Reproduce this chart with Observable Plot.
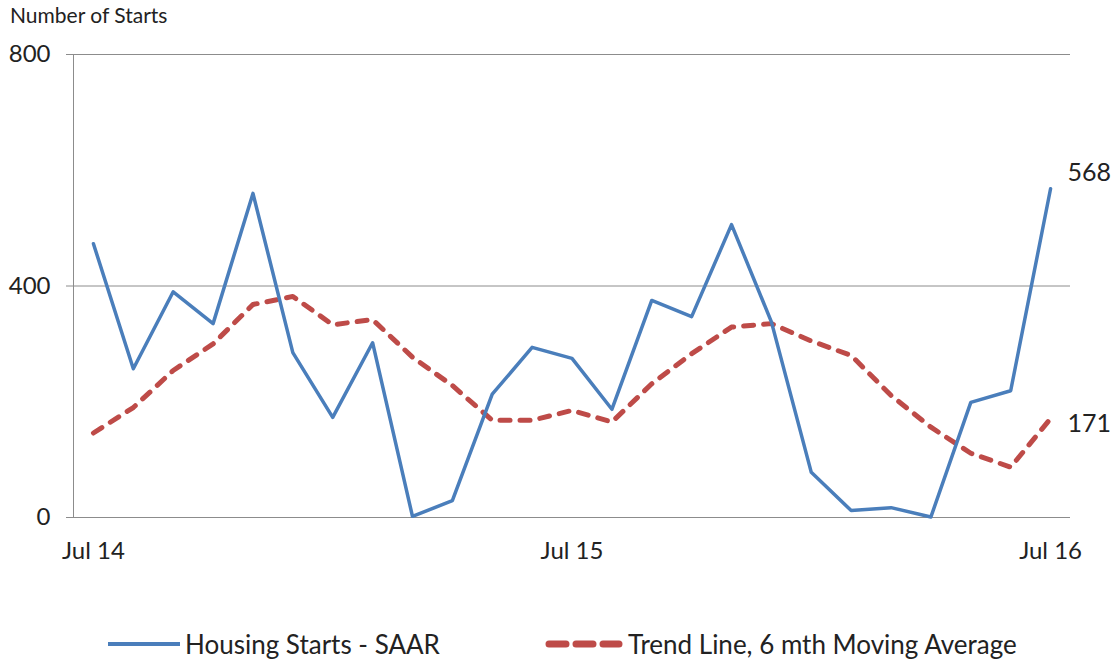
<!DOCTYPE html>
<html>
<head>
<meta charset="utf-8">
<script src="https://cdn.jsdelivr.net/npm/d3@7"></script>
<script src="https://cdn.jsdelivr.net/npm/@observablehq/plot@0.6"></script>
<style>
  body { margin: 0; background: #fff; font-family: Lato, "Open Sans", sans-serif; color: #222; }
  #wrap { width: 1119px; height: 663px; position: relative; overflow: hidden; }
  #title { height: 30px; line-height: 30px; padding-left: 10px; font-size: 21px; }
  #legend { display: flex; align-items: center; font-size: 26px; padding-left: 108px; height: 40px; margin-top: 24px; }
  #legend .item { display: flex; align-items: center; }
  #legend svg { margin-right: 5px; }
</style>
</head>
<body>
<div id="wrap">
  <div id="title">Number of Starts</div>
  <div id="chart"></div>
  <div id="legend"></div>
</div>
<script>
const months = ["Jul 14","Aug 14","Sep 14","Oct 14","Nov 14","Dec 14","Jan 15","Feb 15","Mar 15","Apr 15","May 15","Jun 15","Jul 15","Aug 15","Sep 15","Oct 15","Nov 15","Dec 15","Jan 16","Feb 16","Mar 16","Apr 16","May 16","Jun 16","Jul 16"];
const housingStarts = [473,257,390,335,560,285,173,302,2,29,213,294,275,187,375,347,506,338,78,12,17,1,199,219,568];
const trendLine = [146,190,254,300,368,382,333,342,277,228,168,168,185,165,231,283,329,335,305,280,211,156,111,87,171];
const xTickLabels = ["Jul 14","Jul 15","Jul 16"];
const yTicks = [0,400,800];
const seriesNames = ["Housing Starts - SAAR","Trend Line, 6 mth Moving Average"];

const blue = "#4a7ebb";
const red = "#be4b48";
const grid = "#8c8c8c";

const data = months.map((m, i) => ({i, month: m, starts: housingStarts[i], trend: trendLine[i]}));
const xTickIdx = xTickLabels.map(l => months.indexOf(l));
const last = data[data.length - 1];

const chart = Plot.plot({
  width: 1119,
  height: 570,
  marginTop: 24,
  marginBottom: 83,
  marginLeft: 73,
  marginRight: 49,
  style: {fontFamily: "Lato, 'Open Sans', sans-serif", fontSize: "24px", color: "#222", background: "#fff"},
  x: {type: "linear", domain: [-0.5, months.length - 0.5]},
  y: {domain: [0, 800]},
  marks: [
    Plot.ruleY(yTicks, {stroke: grid, strokeWidth: 1}),
    Plot.ruleX([-0.5], {stroke: grid, strokeWidth: 1}),
    Plot.axisY({ticks: yTicks, tickSize: 7, tickPadding: 16, stroke: grid, label: null, fontSize: 24}),
    Plot.axisX({ticks: xTickIdx, tickFormat: i => months[i], tickSize: 0, tickPadding: 24, label: null, fontSize: 24}),
    Plot.line(data, {x: "i", y: "trend", stroke: red, strokeWidth: 5, strokeDasharray: "10,10", strokeLinecap: "round", strokeLinejoin: "round"}),
    Plot.line(data, {x: "i", y: "starts", stroke: blue, strokeWidth: 3.5, strokeLinejoin: "round"}),
    Plot.text([last], {x: "i", y: "starts", text: d => String(d.starts), dx: 17, dy: -16, textAnchor: "start", fontSize: 25}),
    Plot.text([last], {x: "i", y: "trend", text: d => String(d.trend), dx: 17, dy: 5, textAnchor: "start", fontSize: 25})
  ]
});
document.getElementById("chart").appendChild(chart);

const legend = document.getElementById("legend");
const swatches = [
  `<svg width="72" height="10"><line x1="0" x2="72" y1="5" y2="5" stroke="${blue}" stroke-width="4"/></svg>`,
  `<svg width="78" height="10"><line x1="4" x2="74" y1="5" y2="5" stroke="${red}" stroke-width="7" stroke-dasharray="17,10" stroke-linecap="round"/></svg>`
];
seriesNames.forEach((name, k) => {
  const it = document.createElement("div");
  it.className = "item";
  if (k === 1) it.style.marginLeft = "105px";
  it.innerHTML = swatches[k] + `<span>${name}</span>`;
  legend.appendChild(it);
});
</script>
</body>
</html>
